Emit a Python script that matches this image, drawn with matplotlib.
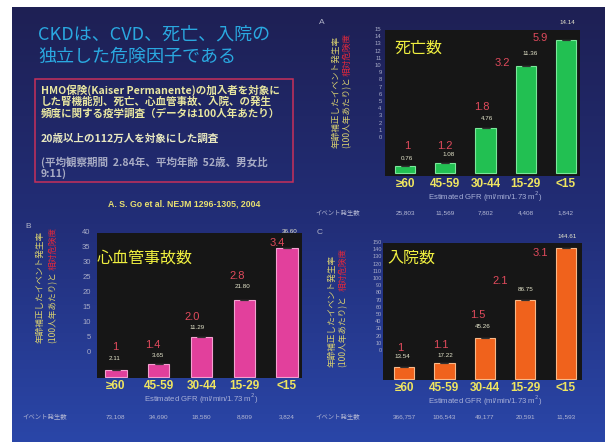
import numpy as np
import matplotlib
matplotlib.use('Agg')
import matplotlib.pyplot as plt
from matplotlib.patches import Rectangle
from matplotlib import transforms

plt.rcParams['font.family'] = ['Liberation Sans', 'Noto Sans CJK JP', 'DejaVu Sans']
JP = ['Noto Sans CJK JP', 'DejaVu Sans']

# data
gfr = ['≥60', '45-59', '30-44', '15-29', '<15']

death_rate = [0.76, 1.08, 4.76, 11.36, 14.14]
death_rr = ['1', '1.2', '1.8', '3.2', '5.9']
death_events = ['25,803', '11,569', '7,802', '4,408', '1,842']

cvd_rate = [2.11, 3.65, 11.29, 21.80, 36.60]
cvd_rr = ['1', '1.4', '2.0', '2.8', '3.4']
cvd_events = ['73,108', '34,690', '18,580', '8,809', '3,824']

hosp_rate = [13.54, 17.22, 45.26, 86.75, 144.61]
hosp_rr = ['1', '1.1', '1.5', '2.1', '3.1']
hosp_events = ['366,757', '106,543', '49,177', '20,591', '11,593']

W, H = 614, 442
fig = plt.figure(figsize=(W / 100, H / 100), dpi=100)
fig.patch.set_facecolor('white')


def fbox(x0, y0, x1, y1):
    return [x0 / W, 1 - y1 / H, (x1 - x0) / W, (y1 - y0) / H]


def ftxt(x, y, s, **kw):
    return fig.text(x / W, 1 - y / H, s, **kw)


# slide background (navy gradient)
bg = fig.add_axes(fbox(12, 7, 605, 442))
stops = np.array([[30, 32, 84], [34, 46, 120], [42, 70, 168]]) / 255
t = np.linspace(0, 1, 200)
grad = np.stack([np.interp(t, [0, 0.5, 1], stops[:, c]) for c in range(3)], axis=1)
bg.imshow(grad[:, None, :], aspect='auto', extent=[0, 1, 0, 1])
bg.set_axis_off()

# title block
ftxt(38, 35, 'CKDは、CVD、死亡、入院の', fontsize=13, color='#2aa8e0',
     family=JP, va='center')
ftxt(38, 57, '独立した危険因子である', fontsize=13, color='#2aa8e0',
     family=JP, va='center')
fig.patches.append(Rectangle((35 / W, 1 - 182 / H), 258 / W, 103 / H,
                             transform=fig.transFigure, fill=False,
                             edgecolor='#c8305a', linewidth=1.1))
box_lines = [
    (90, 'HMO保険(Kaiser Permanente)の加入者を対象に', '#e8e6a0'),
    (102, 'した腎機能別、死亡、心血管事故、入院、の発生', '#e8e6a0'),
    (114, '頻度に関する疫学調査（データは100人年あたり）', '#e8e6a0'),
    (139, '20歳以上の112万人を対象にした調査', '#e8e8c0'),
    (162, '(平均観察期間  2.84年、平均年齢  52歳、男女比', '#a8acc4'),
    (174, '9:11)', '#a8acc4'),
]
for y, s, c in box_lines:
    ftxt(41, y, s, fontsize=7.6, color=c, family=JP, weight='bold', va='center')
ftxt(108, 204, 'A. S. Go et al. NEJM 1296-1305, 2004', fontsize=6.3,
     color='#e8e070', weight='bold', va='center')

panels = [
    dict(letter='A', lpos=(322, 22), rate=death_rate, rr=death_rr, ev=death_events,
         title='死亡数', tpos=(395, 48), box=(385, 30, 580, 176),
         ylim=(-0.32, 15.2), xlim=(-0.5, 4.35),
         tbox=(383, 29, 384, 137), tmax=15, tstep=1, tsize=4.2,
         col=(336, 347), ycol=(33, 148),
         fc='#22c052', ec='#7ae89a',
         wdx=[2, 3, 1, 4, 1], wdy=[7, 8, 10, 13, 17],
         rdx=[2, 0, -4, -23, -26], rdy=[20, 17, 21, 3, 2],
         xl=197, evy=213, evx=315),
    dict(letter='B', lpos=(28, 227), rate=cvd_rate, rr=cvd_rr, ev=cvd_events,
         title='心血管事故数', tpos=(97, 258), box=(97, 233, 302, 378),
         ylim=(-0.28, 40.8), xlim=(-0.44, 4.35),
         tbox=(92, 232, 93, 351), tmax=40, tstep=5, tsize=5.5,
         col=(40, 53), ycol=(227, 343),
         fc='#e2409c', ec='#f4a0d0',
         wdx=[-1, -1, -4, -2, 3], wdy=[11, 9, 10, 14, 16],
         rdx=[-1, -6, -9, -7, -10], rdy=[23, 19, 20, 24, 5],
         xl=399, evy=417, evx=22),
    dict(letter='C', lpos=(320, 232), rate=hosp_rate, rr=hosp_rr, ev=hosp_events,
         title='入院数', tpos=(387, 258), box=(383, 243, 582, 380),
         ylim=(-1.1, 150.1), xlim=(-0.52, 4.4),
         tbox=(383, 242, 384, 350), tmax=150, tstep=10, tsize=4.0,
         col=(332, 343), ycol=(248, 367),
         fc='#f0621c', ec='#f8b888',
         wdx=[-2, 1, -2, 0, 1], wdy=[10, 8, 11, 11, 11],
         rdx=[-4, -4, -7, -25, -26], rdy=[19, 18, 23, 19, -5],
         xl=401, evy=417, evx=315),
]

for p in panels:
    x = np.arange(len(gfr))
    ax = fig.add_axes(fbox(*p['box']))
    ax.set_facecolor('#161616')
    for s in ax.spines.values():
        s.set_visible(False)
    ax.bar(x, p['rate'], width=0.5, color=p['fc'], edgecolor=p['ec'], linewidth=0.8)
    ax.errorbar(x, p['rate'], yerr=0, fmt='none', ecolor='#303030',
                capsize=3, capthick=0.8)
    ax.set_xlim(*p['xlim'])
    ax.set_ylim(*p['ylim'])
    ax.set_yticks([])
    ax.set_xticks(x)
    ax.set_xticklabels(gfr, fontsize=8.5, weight='bold', color='#f0e660')
    ax.tick_params(axis='x', length=0, pad=1.5)

    for i, v in enumerate(p['rate']):
        ax.annotate('%.2f' % v, (i, v), xytext=(p['wdx'][i], p['wdy'][i]),
                    textcoords='offset pixels', ha='center', va='center',
                    fontsize=4.5, color='#e6e6cc', annotation_clip=False)
        ax.annotate(p['rr'][i], (i, v), xytext=(p['rdx'][i], p['rdy'][i]),
                    textcoords='offset pixels', ha='center', va='center',
                    fontsize=8, color='#e04a5c', annotation_clip=False)

    ftxt(p['tpos'][0], p['tpos'][1], p['title'], fontsize=11.5, color='#f0f040',
         family=JP, va='center')

    # x label and event counts
    tr = transforms.blended_transform_factory(ax.transData, fig.transFigure)
    ax.text((len(gfr) - 1) / 2, 1 - p['xl'] / H,
            'Estimated GFR (ml/min/1.73 m$^2$)', transform=tr, ha='center',
            va='center', fontsize=5.6, color='#a8b0d8')
    for i, e in enumerate(p['ev']):
        ax.text(i, 1 - p['evy'] / H, e, transform=tr, ha='center', va='center',
                fontsize=4.6, color='#b4b8d4')
    ftxt(p['evx'], p['evy'], 'イベント発生数', fontsize=4.6, color='#b4b8d4',
         family=JP, va='center')

    # y tick scale
    tax = fig.add_axes(fbox(*p['tbox']))
    tax.set_ylim(0, p['tmax'])
    tax.set_yticks(np.arange(0, p['tmax'] + 1, p['tstep']))
    tax.set_xticks([])
    for s in tax.spines.values():
        s.set_visible(False)
    tax.patch.set_alpha(0)
    tax.tick_params(axis='y', length=0, pad=1, labelsize=p['tsize'],
                    labelcolor='#a8acc8')

    # rotated y label (two columns)
    c1, c2 = p['col']
    ytop, ybot = p['ycol']
    ftxt(c1, ybot, '年齢補正したイベント発生率', rotation=90, fontsize=6.2,
         color='#d8d070', family=JP, ha='center', va='bottom')
    ftxt(c2, ybot, '(100人年あたり)と', rotation=90, fontsize=6.2,
         color='#d8d070', family=JP, ha='center', va='bottom')
    ftxt(c2, ytop, '相対危険度', rotation=90, fontsize=6.2,
         color='#e0283c', family=JP, ha='center', va='top')

    ftxt(p['lpos'][0], p['lpos'][1], p['letter'], fontsize=6, color='#b0b4c8',
         va='center', ha='center')

fig.savefig('out.png', dpi=100, facecolor=fig.get_facecolor())
